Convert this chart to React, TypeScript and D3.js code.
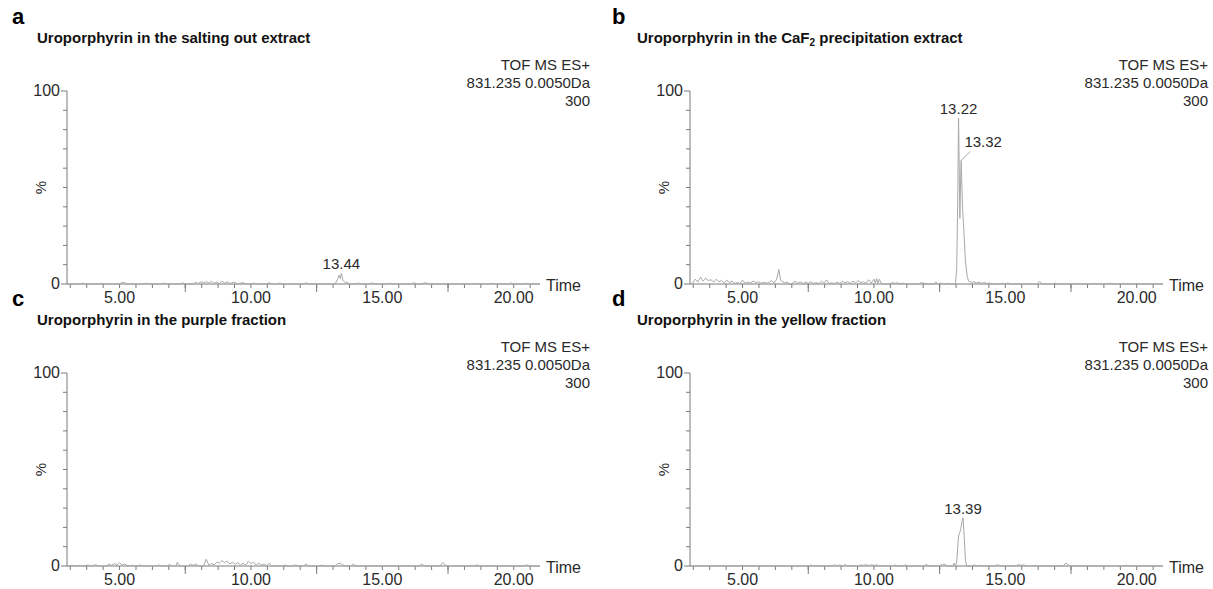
import React from "react";
import * as d3 from "d3";

// ---------- data ----------
const timeDomain: [number, number] = [3, 21];
const xTickLabels = [5, 10, 15, 20];
const minorTickStep = 0.625;
const majorTickTimes = [7.5, 12.5, 17.5];
const yTicks = [0, 10, 20, 30, 40, 50, 60, 70, 80, 90, 100];
const panelLetters = ["a", "b", "c", "d"];
const panelTitles = [
  "Uroporphyrin in the salting out extract",
  "Uroporphyrin in the CaF|2| precipitation extract",
  "Uroporphyrin in the purple fraction",
  "Uroporphyrin in the yellow fraction",
];
const infoLines = ["TOF MS ES+", "831.235 0.0050Da", "300"];

const traceA: [number, number][] = [
  [3.0, 0], [3.5, 0], [3.6, 0.5], [3.7, 0], [4.2, 0], [4.3, 0.4], [4.4, 0], [5.0, 0], [5.1, 0.8], [5.2, 0.6], [5.3, 0],
  [5.9, 0], [6.0, 0.4], [6.1, 0], [6.6, 0], [6.7, 0.5], [6.8, 0], [7.3, 0], [7.4, 0.6], [7.5, 0], [7.8, 0], [7.9, 0.8],
  [8.0, 0.3], [8.1, 1.2], [8.2, 0.5], [8.3, 1.3], [8.4, 0.4], [8.5, 1.4], [8.6, 0.3], [8.7, 1.0], [8.8, 0.2], [8.9, 1.5],
  [9.0, 0.4], [9.1, 1.2], [9.2, 0.2], [9.35, 1.0], [9.5, 0], [9.7, 0.7], [9.8, 0], [10.0, 0], [10.1, 0.5], [10.2, 0],
  [10.6, 0], [10.7, 0.7], [10.8, 0], [11.0, 0], [11.1, 0.5], [11.2, 0], [12.0, 0], [12.1, 0.6], [12.2, 0], [13.2, 0],
  [13.3, 2.5], [13.35, 4.5], [13.4, 2.8], [13.44, 5.5], [13.5, 2], [13.55, 1.2], [13.6, 0.5], [13.65, 1.0], [13.75, 0],
  [14.0, 0], [14.1, 0.5], [14.2, 0], [14.5, 0], [14.6, 0.6], [14.7, 0], [15.2, 0], [15.3, 0.4], [15.4, 0], [16.1, 0],
  [16.2, 0.7], [16.3, 0], [16.5, 0], [16.6, 0.6], [16.7, 0.4], [16.8, 0], [17.4, 0], [17.5, 0.4], [17.6, 0], [18.4, 0],
  [18.5, 0.3], [18.6, 0], [19.1, 0], [19.2, 0.4], [19.3, 0], [19.8, 0], [19.9, 0.5], [20.0, 0], [20.4, 0], [20.5, 0.4],
  [20.6, 0], [21, 0],
];

const traceB: [number, number][] = [
  [3.0, 0], [3.1, 0.5], [3.2, 2.5], [3.3, 1.0], [3.4, 3.5], [3.5, 1.5], [3.6, 3.0], [3.7, 1.8], [3.8, 2.2], [3.9, 1.0],
  [4.0, 2.5], [4.1, 1.2], [4.2, 1.8], [4.3, 0.5], [4.4, 2.0], [4.5, 0.8], [4.6, 1.5], [4.7, 0.3], [4.8, 0.8], [4.9, 0.2],
  [5.0, 2.0], [5.1, 0.3], [5.2, 1.0], [5.3, 0.5], [5.4, 1.5], [5.5, 0.6], [5.6, 1.2], [5.7, 0.3], [5.8, 1.0], [5.9, 0.4],
  [6.0, 0.8], [6.1, 1.8], [6.2, 0.5], [6.3, 2.5], [6.38, 7.5], [6.45, 2.0], [6.5, 1.5], [6.6, 0.5], [6.7, 1.0], [6.8, 0],
  [6.9, 0.3], [7.0, 1.5], [7.1, 0.4], [7.2, 1.2], [7.3, 0.2], [7.4, 1.0], [7.5, 0.3], [7.6, 1.3], [7.7, 0.2], [7.8, 0.8],
  [7.9, 0.2], [8.0, 1.5], [8.1, 0.3], [8.2, 2.0], [8.3, 0.2], [8.4, 0.6], [8.5, 0.2], [8.6, 1.0], [8.7, 0.3], [8.8, 1.5],
  [8.9, 0.5], [9.0, 1.2], [9.1, 0.3], [9.2, 1.5], [9.3, 0.5], [9.4, 1.8], [9.5, 0.6], [9.6, 1.2], [9.7, 0.4], [9.8, 2.2],
  [9.9, 0.5], [10.0, 2.5], [10.05, 0.5], [10.1, 2.8], [10.15, 0.3], [10.2, 2.5], [10.3, 0], [10.6, 0], [10.7, 0.8],
  [10.8, 0.3], [10.9, 0.6], [11.0, 0], [11.1, 0.5], [11.2, 0], [11.7, 0], [11.8, 0.7], [11.9, 0.4], [12.0, 0], [12.3, 0],
  [12.35, 1.0], [12.45, 0], [12.55, 0.6], [12.6, 0], [12.8, 0], [12.85, 0.5], [12.9, 0], [13.1, 0], [13.15, 8],
  [13.19, 45], [13.22, 86], [13.25, 55], [13.27, 34], [13.3, 55], [13.32, 64], [13.37, 40], [13.42, 28], [13.48, 12],
  [13.55, 4], [13.6, 1.5], [13.7, 0.8], [13.8, 1.2], [13.9, 0.5], [14.0, 1.0], [14.1, 0.3], [14.2, 0.8], [14.3, 0.2],
  [14.4, 0.5], [14.5, 0], [14.8, 0], [14.9, 0.4], [15.0, 0], [15.1, 0.5], [15.2, 0], [16.2, 0], [16.3, 1.3], [16.4, 0],
  [16.8, 0], [16.9, 0.5], [17.0, 0], [17.6, 0], [17.7, 0.3], [17.8, 0], [18.3, 0], [18.4, 0.3], [18.5, 0], [18.9, 0],
  [19.0, 0.4], [19.1, 0], [19.4, 0], [19.5, 0.3], [19.6, 0], [19.9, 0], [20.0, 0.3], [20.1, 0], [21, 0],
];

const traceC: [number, number][] = [
  [3.0, 0], [3.2, 0.4], [3.3, 0], [3.5, 0.3], [3.6, 0], [3.8, 0.5], [3.9, 0], [4.1, 0.6], [4.2, 0], [4.5, 0], [4.6, 1.0],
  [4.7, 0.3], [4.8, 1.2], [4.9, 0.5], [5.0, 1.8], [5.1, 0.4], [5.2, 1.0], [5.3, 0], [5.5, 0.4], [5.6, 0], [5.8, 0.5],
  [5.9, 0], [6.4, 0], [6.5, 0.5], [6.6, 0], [6.8, 0], [6.9, 0.8], [7.0, 0], [7.15, 0], [7.2, 2.0], [7.3, 0], [7.6, 0],
  [7.7, 1.0], [7.8, 0.3], [7.9, 1.0], [8.0, 0], [8.2, 0], [8.3, 3.5], [8.4, 0.3], [8.5, 1.2], [8.6, 0.5], [8.7, 2.0],
  [8.8, 1.5], [8.9, 2.8], [9.0, 1.8], [9.1, 2.5], [9.2, 1.0], [9.3, 2.0], [9.4, 0.8], [9.5, 1.8], [9.6, 0.5], [9.7, 1.5],
  [9.8, 0.3], [9.9, 2.5], [10.0, 1.2], [10.1, 2.0], [10.2, 0.5], [10.3, 1.5], [10.4, 0.4], [10.5, 1.0], [10.6, 0.2],
  [10.7, 1.5], [10.8, 0], [11.2, 0], [11.3, 0.5], [11.4, 0], [11.6, 0], [11.7, 0.6], [11.8, 0], [12.0, 0], [12.1, 1.0],
  [12.2, 0], [12.6, 0], [12.7, 0.5], [12.8, 0], [13.2, 0], [13.3, 1.2], [13.4, 1.5], [13.5, 0.5], [13.6, 0], [13.8, 0],
  [13.9, 1.0], [14.0, 0], [16.4, 0], [16.5, 1.0], [16.6, 0], [17.2, 0], [17.3, 1.8], [17.4, 0.5], [17.5, 0], [18.5, 0],
  [18.6, 0.6], [18.7, 0], [20.4, 0], [20.5, 0.6], [20.6, 0], [21, 0],
];

const traceD: [number, number][] = [
  [3.0, 0], [4.9, 0], [5.0, 0.4], [5.1, 0], [7.5, 0], [7.6, 0.5], [7.7, 0], [7.8, 0.4], [7.9, 0], [8.4, 0], [8.5, 0.6],
  [8.6, 0], [8.7, 0.5], [8.8, 0], [8.9, 0.7], [9.0, 0], [9.4, 0], [9.5, 0.6], [9.6, 0.3], [9.7, 0.7], [9.8, 0.2],
  [9.9, 0.6], [10.0, 0.3], [10.1, 0.6], [10.2, 0], [10.7, 0], [10.8, 0.5], [10.9, 0], [11.1, 0], [11.2, 0.5], [11.3, 0],
  [11.9, 0], [12.0, 0.8], [12.1, 0], [12.5, 0], [12.55, 0.8], [12.6, 0.5], [12.7, 0.8], [12.8, 0], [13.0, 0],
  [13.05, 1.5], [13.1, 0], [13.15, 2], [13.2, 12], [13.22, 15.5], [13.26, 17], [13.3, 19], [13.35, 23], [13.39, 25],
  [13.44, 14], [13.48, 3], [13.52, 0.5], [13.6, 0], [13.75, 0], [13.8, 0.6], [13.9, 0], [14.0, 0.4], [14.1, 0],
  [14.6, 0], [14.65, 0.5], [14.75, 0.5], [14.8, 0], [15.4, 0], [15.5, 0.7], [15.6, 0.4], [15.7, 0.6], [15.8, 0],
  [16.1, 0], [16.15, 0.4], [16.2, 0], [17.2, 0], [17.3, 1.5], [17.4, 0.5], [17.5, 0], [19.5, 0], [19.6, 0.4], [19.7, 0],
  [21, 0],
];

const peakLabelsA = [{ t: 13.44, v: 5.5, text: "13.44" }];
const peakLabelsB = [
  { t: 13.22, v: 86, text: "13.22" },
  { t: 13.32, v: 64, text: "13.32", leader: true },
];
const peakLabelsC: { t: number; v: number; text: string; leader?: boolean }[] = [];
const peakLabelsD = [{ t: 13.39, v: 25, text: "13.39" }];

const traces = [traceA, traceB, traceC, traceD];
const peakLabels = [peakLabelsA, peakLabelsB, peakLabelsC, peakLabelsD];

// ---------- layout ----------
const W = 1213;
const H = 589;
const FONT = "'Liberation Sans', Arial, sans-serif";
const TEXT = "#2a2a2a";
const AXIS = "#7a7a7a";
const TRACE = "#a8a8a8";

const layouts = [
  { x0: 67, x1: 540, yTop: 91, yBot: 284, letterX: 12, titleX: 37, infoRight: 590 },
  { x0: 690, x1: 1163, yTop: 91, yBot: 284, letterX: 612, titleX: 637, infoRight: 1208 },
  { x0: 67, x1: 540, yTop: 373, yBot: 566, letterX: 12, titleX: 37, infoRight: 590 },
  { x0: 690, x1: 1163, yTop: 373, yBot: 566, letterX: 612, titleX: 637, infoRight: 1208 },
];

function Title({ text, x, y }: { text: string; x: number; y: number }) {
  const parts = text.split("|");
  return (
    <text x={x} y={y} fontFamily={FONT} fontWeight="bold" fontSize={15} fill="#111">
      {parts.map((p, i) =>
        i % 2 === 1 ? (
          <tspan key={i} fontSize={10} dy={3}>
            {p}
          </tspan>
        ) : (
          <tspan key={i} dy={i > 0 ? -3 : 0}>
            {p}
          </tspan>
        )
      )}
    </text>
  );
}

function Panel({ idx }: { idx: number }) {
  const L = layouts[idx];
  const x = d3.scaleLinear().domain(timeDomain).range([L.x0, L.x1]);
  const y = d3.scaleLinear().domain([0, 100]).range([L.yBot, L.yTop]);
  const line = d3
    .line<[number, number]>()
    .x((d) => x(d[0]))
    .y((d) => y(d[1]));
  const minorTicks = d3.range(timeDomain[0] + 0.125, timeDomain[1], minorTickStep);
  return (
    <g>
      <text x={L.letterX} y={L.yTop - 67} fontFamily={FONT} fontWeight="bold" fontSize={22} fill="#000">
        {panelLetters[idx]}
      </text>
      <Title text={panelTitles[idx]} x={L.titleX} y={L.yTop - 48} />
      {infoLines.map((s, i) => (
        <text
          key={i}
          x={L.infoRight}
          y={L.yTop - 21 + i * 18}
          textAnchor="end"
          fontFamily={FONT}
          fontSize={15}
          fill={TEXT}
        >
          {s}
        </text>
      ))}
      {/* y axis */}
      <line x1={L.x0} x2={L.x0} y1={y(100)} y2={y(0)} stroke={AXIS} strokeWidth={1} />
      {yTicks.map((v) => (
        <line
          key={v}
          x1={L.x0 - (v === 0 || v === 100 ? 6 : 4)}
          x2={L.x0}
          y1={y(v)}
          y2={y(v)}
          stroke={AXIS}
          strokeWidth={1}
        />
      ))}
      <text x={L.x0 - 7} y={y(100) + 5} textAnchor="end" fontFamily={FONT} fontSize={16} fill={TEXT}>
        100
      </text>
      <text x={L.x0 - 7} y={y(0) + 5} textAnchor="end" fontFamily={FONT} fontSize={16} fill={TEXT}>
        0
      </text>
      <text
        transform={`translate(${L.x0 - 21},${y(50)}) rotate(-90)`}
        textAnchor="middle"
        fontFamily={FONT}
        fontSize={15}
        fill={TEXT}
      >
        %
      </text>
      {/* x axis */}
      <line x1={L.x0} x2={L.x1} y1={y(0)} y2={y(0)} stroke={AXIS} strokeWidth={1} />
      {minorTicks.map((t) => (
        <line key={t} x1={x(t)} x2={x(t)} y1={y(0)} y2={y(0) + 4} stroke={AXIS} strokeWidth={1} />
      ))}
      {majorTickTimes.map((t) => (
        <line key={"M" + t} x1={x(t)} x2={x(t)} y1={y(0)} y2={y(0) + 8} stroke={AXIS} strokeWidth={1} />
      ))}
      {xTickLabels.map((t) => (
        <text key={t} x={x(t)} y={y(0) + 19} textAnchor="middle" fontFamily={FONT} fontSize={16} fill={TEXT}>
          {t.toFixed(2)}
        </text>
      ))}
      <text x={L.x1 + 6} y={y(0) + 7} fontFamily={FONT} fontSize={16} fill={TEXT}>
        Time
      </text>
      {/* trace */}
      <path d={line(traces[idx]) || ""} fill="none" stroke={TRACE} strokeWidth={1} strokeLinejoin="round" />
      {peakLabels[idx].map((p: any) =>
        p.leader ? (
          <g key={p.text}>
            <line x1={x(p.t)} y1={y(p.v)} x2={x(p.t) + 9} y2={y(p.v) - 9} stroke={TRACE} strokeWidth={1} />
            <text x={x(p.t) + 22} y={y(p.v) - 13} textAnchor="middle" fontFamily={FONT} fontSize={15} fill={TEXT}>
              {p.text}
            </text>
          </g>
        ) : (
          <text key={p.text} x={x(p.t)} y={y(p.v) - 4} textAnchor="middle" fontFamily={FONT} fontSize={15} fill={TEXT}>
            {p.text}
          </text>
        )
      )}
    </g>
  );
}

export default function App() {
  return (
    <svg width={W} height={H} style={{ position: "absolute", left: 0, top: 0, background: "#fff" }}>
      <rect width={W} height={H} fill="#fff" />
      {[0, 1, 2, 3].map((i) => (
        <Panel key={i} idx={i} />
      ))}
    </svg>
  );
}
